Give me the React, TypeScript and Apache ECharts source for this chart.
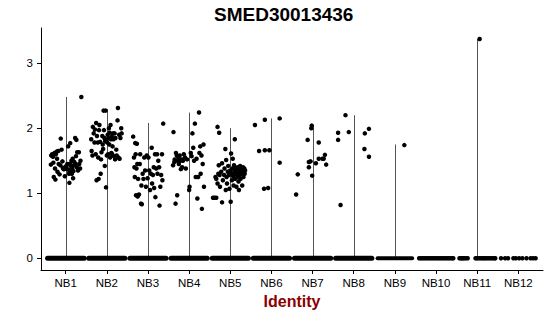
import React, { useEffect, useRef } from "react";
import * as echarts from "echarts";

const title = "SMED30013436";
const xTitle = "Identity";
const categories = ["NB1", "NB2", "NB3", "NB4", "NB5", "NB6", "NB7", "NB8", "NB9", "NB10", "NB11", "NB12"];
const yTicks = [0, 1, 2, 3];

// violin (very thin) extents: max expression per identity
const violinMax = [2.48, 2.29, 2.08, 2.24, 2.0, 2.15, 2.04, 2.2, 1.75, 0, 3.37, 0];

// continuous zero-expression bands (jitter span) for groups NB1..NB9
const zeroSpans: [number, number][] = [
  [-0.44, 0.45], [-0.44, 0.44], [-0.44, 0.44], [-0.44, 0.44], [-0.44, 0.44],
  [-0.44, 0.44], [-0.44, 0.44], [-0.44, 0.44], [-0.42, 0.42],
];
// sparse zero points for NB10..NB12 (jitter offsets)
const nb10Zeros = [-0.41, -0.37, -0.33, -0.29, -0.25, -0.21, -0.17, -0.13, -0.09, -0.05, -0.01, 0.03, 0.07, 0.11, 0.15, 0.19, 0.23, 0.27, 0.31, 0.35, 0.39, 0.42];
const nb11Zeros = [-0.43, -0.4, -0.37, -0.34, -0.31, -0.27, -0.23, -0.04, -0.01, 0.03, 0.07, 0.11, 0.15, 0.18, 0.22, 0.26, 0.3, 0.34, 0.38, 0.42, 0.44];
const nb12Zeros = [-0.42, -0.32, -0.25, -0.12, -0.06, 0.02, 0.1, 0.2, 0.3, 0.36, 0.42];

// non-zero points: [jitter offset, expression]
const nb1Points = [[-0.36,1.44],[-0.35,1.58],[-0.33,1.6],[-0.31,1.56],[-0.3,1.47],[-0.29,1.25],[-0.27,1.62],[-0.26,1.38],[-0.25,1.21],[-0.24,1.6],[-0.22,1.64],[-0.21,1.53],[-0.2,1.33],[-0.18,1.65],[-0.17,1.45],[-0.15,1.29],[-0.13,1.43],[-0.12,1.84],[-0.1,1.67],[-0.08,1.49],[-0.07,1.39],[-0.05,1.37],[-0.04,1.37],[-0.02,1.26],[0,1.41],[0.01,1.4],[0.03,1.37],[0.04,1.45],[0.06,1.72],[0.07,1.36],[0.08,1.3],[0.09,1.16],[0.1,1.45],[0.11,1.77],[0.12,1.42],[0.13,1.33],[0.14,1.5],[0.15,1.3],[0.16,1.38],[0.17,1.53],[0.18,1.23],[0.19,1.34],[0.2,1.43],[0.21,1.48],[0.23,1.85],[0.24,1.45],[0.25,1.57],[0.26,1.82],[0.27,1.4],[0.28,1.63],[0.3,1.35],[0.32,1.63],[0.33,1.45],[0.35,1.38],[0.36,1.5],[0.38,2.48]];
const nb2Points = [[-0.38,1.83],[-0.37,1.65],[-0.35,1.58],[-0.34,2.02],[-0.32,1.92],[-0.3,1.78],[-0.29,1.98],[-0.27,1.6],[-0.26,2.08],[-0.25,1.2],[-0.24,1.88],[-0.22,1.78],[-0.21,1.55],[-0.2,1.22],[-0.19,1.97],[-0.18,2.05],[-0.16,1.79],[-0.15,1.3],[-0.14,1.52],[-0.13,1.63],[-0.11,1.88],[-0.1,1.75],[-0.09,1.68],[-0.08,2.27],[-0.07,1.97],[-0.06,1.85],[-0.05,1.42],[-0.04,1.8],[-0.03,2.27],[-0.02,1.09],[-0.01,1.82],[0,1.58],[0.01,1.78],[0.02,1.9],[0.03,1.6],[0.04,1.85],[0.05,2.0],[0.06,1.75],[0.07,1.93],[0.08,1.55],[0.09,2.05],[0.1,1.83],[0.11,1.62],[0.12,1.87],[0.13,1.6],[0.14,1.72],[0.15,1.92],[0.16,1.83],[0.17,1.57],[0.19,1.92],[0.2,1.52],[0.21,1.85],[0.23,1.67],[0.24,1.58],[0.26,2.12],[0.27,2.31],[0.28,1.55],[0.3,1.9],[0.31,1.53],[0.33,1.85],[0.35,2.0],[0.36,1.92]];
const nb3Points = [[-0.36,1.87],[-0.34,1.55],[-0.33,1.4],[-0.32,1.25],[-0.31,1.77],[-0.3,1.6],[-0.29,0.97],[-0.28,1.38],[-0.27,1.76],[-0.26,1.45],[-0.25,0.95],[-0.24,1.22],[-0.22,0.98],[-0.2,1.45],[-0.19,1.6],[-0.17,0.84],[-0.16,1.12],[-0.15,0.83],[-0.13,1.3],[-0.11,1.22],[-0.09,1.55],[-0.07,1.35],[-0.05,1.1],[-0.03,1.58],[-0.01,1.23],[0.01,1.55],[0.03,1.35],[0.05,1.05],[0.07,1.3],[0.09,1.7],[0.1,1.15],[0.12,1.28],[0.14,1.4],[0.15,1.08],[0.17,1.6],[0.18,0.94],[0.2,1.38],[0.22,1.6],[0.23,1.3],[0.25,1.5],[0.27,1.4],[0.28,0.81],[0.3,1.1],[0.32,1.28],[0.34,1.6],[0.35,1.2],[0.37,2.07]];
const nb4Points = [[-0.39,1.43],[-0.38,1.94],[-0.36,1.48],[-0.35,1.52],[-0.33,0.84],[-0.32,1.62],[-0.3,1.58],[-0.29,0.97],[-0.28,1.5],[-0.26,1.55],[-0.25,1.45],[-0.23,1.58],[-0.21,1.5],[-0.2,1.37],[-0.18,1.52],[-0.17,1.4],[-0.15,1.5],[-0.13,1.6],[-0.1,1.55],[-0.08,1.38],[-0.05,1.52],[0.0,1.05],[0.01,1.1],[0.04,1.62],[0.06,1.57],[0.08,1.92],[0.1,1.7],[0.12,1.5],[0.14,2.07],[0.16,1.25],[0.18,1.53],[0.2,0.92],[0.22,1.25],[0.24,2.24],[0.25,1.62],[0.27,1.72],[0.28,1.3],[0.3,1.58],[0.31,0.76],[0.33,1.45],[0.35,1.75],[0.36,1.1]];
const nb5Points = [[-0.42,0.93],[-0.38,0.93],[-0.34,0.93],[-0.31,2.02],[-0.27,1.93],[-0.36,1.25],[-0.34,1.22],[-0.31,1.15],[-0.29,1.3],[-0.28,1.43],[-0.26,1.28],[-0.25,1.1],[-0.22,1.33],[-0.2,0.86],[-0.2,1.46],[-0.18,1.2],[-0.15,1.28],[-0.14,1.38],[-0.12,1.68],[-0.11,1.05],[-0.1,1.51],[-0.09,1.25],[-0.08,1.15],[-0.06,1.33],[-0.05,1.42],[-0.03,1.28],[-0.02,1.07],[0.0,1.35],[0.01,0.87],[0.02,1.61],[0.03,1.3],[0.04,1.2],[0.05,1.38],[0.06,1.53],[0.07,1.26],[0.08,1.12],[0.09,1.43],[0.1,1.33],[0.11,1.83],[0.12,1.22],[0.13,1.38],[0.14,1.3],[0.15,1.1],[0.16,1.36],[0.17,1.25],[0.18,1.4],[0.19,1.33],[0.2,1.18],[0.21,1.05],[0.22,1.35],[0.23,1.28],[0.24,1.42],[0.25,1.22],[0.26,1.33],[0.27,1.38],[0.28,1.3],[0.29,1.12],[0.3,1.36],[0.31,1.4],[0.32,1.25],[0.33,1.33],[0.34,1.38],[0.35,1.3],[0.36,1.35]];
const nb6Points = [[-0.4,2.05],[-0.16,2.13],[0.2,2.15],[-0.3,1.65],[-0.16,1.66],[-0.05,1.66],[0.2,1.47],[-0.18,1.07],[-0.08,1.08]];
const nb7Points = [[-0.02,2.04],[-0.03,2.0],[-0.12,1.82],[0.15,1.78],[-0.36,1.29],[-0.4,0.98],[-0.01,1.27],[-0.09,1.48],[-0.05,1.49],[-0.09,1.4],[0.08,1.46],[0.24,1.53],[0.27,1.53],[0.3,1.59],[0.33,1.44],[0.15,1.53]];
const nb8Points = [[-0.2,2.2],[-0.38,1.93],[-0.38,1.82],[-0.12,1.94],[0.27,1.92],[0.37,1.99],[0.26,1.68],[0.37,1.56],[-0.32,0.82]];
const nb9Points = [[0.23,1.74]];
const nb11Points = [[0.06,3.37]];

const nonZero = [nb1Points, nb2Points, nb3Points, nb4Points, nb5Points, nb6Points, nb7Points, nb8Points, nb9Points, [], nb11Points, []];
const sparseZeros: [number, number[]][] = [[10, nb10Zeros], [11, nb11Zeros], [12, nb12Zeros]];

export default function App() {
  const ref = useRef<HTMLDivElement>(null);
  useEffect(() => {
    if (!ref.current) return;
    const chart = echarts.init(ref.current, null, { renderer: "svg" });
    const font = "'Liberation Sans', Arial, Helvetica, sans-serif";
    const catIdx = categories.map((_, i) => i + 1);

    const scatterData: number[][] = [];
    nonZero.forEach((pts, i) => pts.forEach((p: number[]) => scatterData.push([i + 1 + p[0], p[1]])));
    sparseZeros.forEach(([g, offs]) => offs.forEach((o) => scatterData.push([g + o, 0])));

    const violinData = violinMax.map((m, i) => [i + 1, m]).filter((d) => d[1] > 0);
    const bandData = zeroSpans.map((s, i) => [i + 1 + s[0], i + 1 + s[1], i]);

    chart.setOption({
      animation: false,
      title: {
        text: title,
        left: 209,
        top: 0,
        textStyle: { fontFamily: font, fontSize: 19, fontWeight: "bold", color: "#000" },
      },
      grid: { left: 41, right: 7, top: 28, bottom: 46, containLabel: false, outerBoundsMode: "none" },
      xAxis: {
        type: "value",
        min: 0.4,
        max: 12.6,
        name: xTitle,
        nameLocation: "middle",
        nameGap: 23,
        nameTextStyle: { fontFamily: font, fontSize: 16, fontWeight: "bold", color: "#8B0000" },
        splitLine: { show: false },
        axisLine: { show: true, onZero: false, lineStyle: { color: "#000", width: 1 } },
        axisTick: { show: true, length: 4, customValues: catIdx, lineStyle: { color: "#000" } },
        axisLabel: {
          customValues: catIdx,
          margin: 7,
          fontFamily: font,
          fontSize: 11.5,
          color: "#000",
          formatter: (v: number) => categories[Math.round(v) - 1] ?? "",
        },
      },
      yAxis: {
        type: "value",
        min: -0.18,
        max: 3.54,
        splitLine: { show: false },
        axisLine: { show: true, onZero: false, lineStyle: { color: "#000", width: 1 } },
        axisTick: { show: true, length: 4, customValues: yTicks, lineStyle: { color: "#000" } },
        axisLabel: {
          customValues: yTicks,
          margin: 8,
          fontFamily: font,
          fontSize: 11.5,
          color: "#000",
        },
      },
      series: [
        {
          type: "custom",
          z: 1,
          silent: true,
          data: violinData,
          renderItem: (_p: any, api: any) => {
            const a = api.coord([api.value(0), 0]);
            const b = api.coord([api.value(0), api.value(1)]);
            return {
              type: "line",
              shape: { x1: Math.round(a[0]) + 0.5, y1: a[1], x2: Math.round(b[0]) + 0.5, y2: b[1] },
              style: { stroke: "#555", lineWidth: 1 },
            };
          },
        },
        {
          type: "custom",
          z: 2,
          silent: true,
          data: bandData,
          renderItem: (_p: any, api: any) => {
            const a = api.coord([api.value(0), 0]);
            const b = api.coord([api.value(1), 0]);
            return {
              type: "line",
              shape: { x1: a[0], y1: a[1], x2: b[0], y2: b[1] },
              style: { stroke: "#000", lineWidth: api.value(2) === 8 ? 4 : 5, lineCap: "round" },
            };
          },
        },
        {
          type: "scatter",
          z: 3,
          symbol: "circle",
          symbolSize: 4.5,
          itemStyle: { color: "#000", opacity: 1 },
          data: scatterData,
        },
      ],
    });
    return () => chart.dispose();
  }, []);
  return <div ref={ref} style={{ position: "absolute", left: 0, top: 0, width: 550, height: 316 }} />;
}
